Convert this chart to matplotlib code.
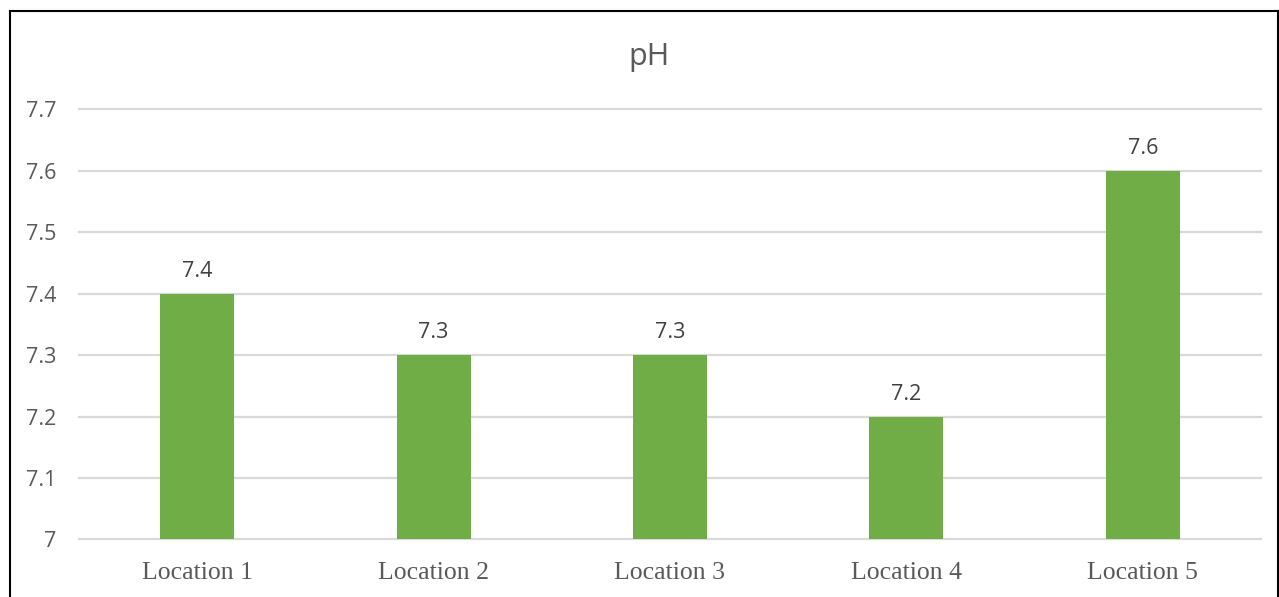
import matplotlib.pyplot as plt
from matplotlib.lines import Line2D

locations = ["Location 1", "Location 2", "Location 3", "Location 4", "Location 5"]
ph_values = [7.4, 7.3, 7.3, 7.2, 7.6]
y_ticks = [7.0, 7.1, 7.2, 7.3, 7.4, 7.5, 7.6, 7.7]
y_tick_labels = ["7", "7.1", "7.2", "7.3", "7.4", "7.5", "7.6", "7.7"]

W, H = 1279, 597
fig = plt.figure(figsize=(W / 100, H / 100), dpi=100)
ax = fig.add_axes([79 / W, (H - 539.5) / H, (1261 - 79) / W, (539.5 - 109.5) / H])

x = range(len(locations))
ax.bar(x, [v - 7.0 for v in ph_values], bottom=7.0, width=0.313, color="#70AD47", zorder=3)
for i, v in enumerate(ph_values):
    ax.text(i, v + 0.0275, f"{v:g}", ha="center", va="baseline",
            fontsize=15.5, family="Open Sans", color="#404040")

ax.set_xlim(-0.5, len(locations) - 0.5)
ax.set_ylim(7.0, 7.7)
ax.set_yticks(y_ticks)
ax.set_yticklabels(y_tick_labels, family="Open Sans", fontsize=15.5, color="#595959")
ax.set_xticks(list(x))
ax.set_xticklabels(locations, family="Liberation Serif", fontsize=18.5, color="#595959")
ax.tick_params(length=0)
ax.tick_params(axis="y", pad=16.5)
ax.tick_params(axis="x", pad=16)
ax.yaxis.grid(True, color="#D9D9D9", linewidth=1.6, zorder=0)
for gl in ax.get_ygridlines():
    gl.set_clip_on(False)
for s in ax.spines.values():
    s.set_visible(False)

fig.text(649 / W, 1 - 57 / H, "pH", ha="center", va="center",
         fontsize=22, family="Open Sans", color="#595959")

# chart frame: left, top, right edges
x0, x1, y0 = 9.5 / W, 1277.5 / W, 1 - 10.5 / H
for xs, ys in [([x0, x0], [0, y0]), ([x0, x1], [y0, y0]), ([x1, x1], [y0, 0])]:
    fig.add_artist(Line2D(xs, ys, color="black", linewidth=1.5, transform=fig.transFigure))

fig.savefig("out.png", dpi=100)
